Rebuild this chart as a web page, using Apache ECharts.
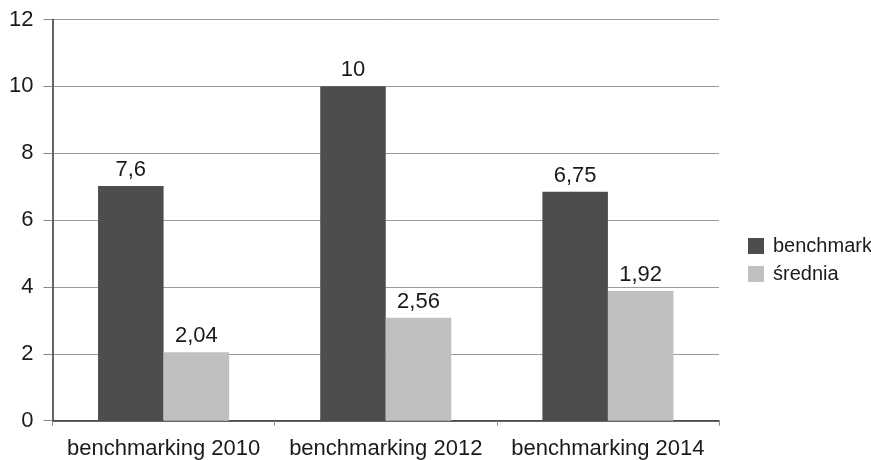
<!DOCTYPE html>
<html>
<head>
<meta charset="utf-8">
<script src="https://cdn.jsdelivr.net/npm/echarts@6/dist/echarts.min.js"></script>
<style>
  html, body { margin: 0; padding: 0; background: #fff; }
  #chart { width: 871px; height: 460px; }
</style>
</head>
<body>
<div id="chart"></div>
<script>
// categories and values
var categories = ['benchmarking 2010', 'benchmarking 2012', 'benchmarking 2014'];
var seriesNames = ['benchmark', 'średnia'];
// bar heights as drawn
var benchmarkValues = [7.02, 10, 6.85];
var sredniaValues = [2.05, 3.08, 3.88];
// printed labels (differ from drawn heights in the original)
var benchmarkLabels = ['7,6', '10', '6,75'];
var sredniaLabels = ['2,04', '2,56', '1,92'];
var yTicks = [0, 2, 4, 6, 8, 10, 12];

var font = 'Liberation Sans, Arial, sans-serif';
var chart = echarts.init(document.getElementById('chart'));

function labelCfg(texts) {
    return {
        show: true,
        position: 'top',
        distance: 5,
        color: '#1a1a1a',
        fontFamily: font,
        fontSize: 22,
        formatter: function (p) { return texts[p.dataIndex]; }
    };
}

chart.setOption({
    animation: false,
    textStyle: { fontFamily: font },
    grid: { left: 52.5, right: 152, top: 19.5, bottom: 39.3 },
    legend: {
        orient: 'vertical',
        left: 743,
        top: 231,
        itemWidth: 16,
        itemHeight: 16,
        itemGap: 8,
        icon: 'rect',
        data: seriesNames,
        textStyle: { color: '#1a1a1a', fontSize: 20, fontFamily: font, padding: [0, 0, 0, 4] }
    },
    xAxis: {
        type: 'category',
        data: categories,
        axisLine: { lineStyle: { color: '#333', width: 1.5 } },
        axisTick: { show: true, length: 5, lineStyle: { color: '#888' } },
        axisLabel: {
            interval: 0,
            hideOverlap: false,
            color: '#1a1a1a',
            fontSize: 22,
            fontFamily: font,
            margin: 17
        }
    },
    yAxis: {
        type: 'value',
        min: yTicks[0],
        max: yTicks[yTicks.length - 1],
        interval: 2,
        axisLine: { show: true, lineStyle: { color: '#333', width: 1.5 } },
        axisTick: { show: true, length: 9, lineStyle: { color: '#888' } },
        axisLabel: { color: '#1a1a1a', fontSize: 22, fontFamily: font, margin: 19 },
        splitLine: { lineStyle: { color: '#9a9a9a', width: 1 } }
    },
    series: [
        {
            name: seriesNames[0],
            type: 'bar',
            data: benchmarkValues,
            barGap: '0%',
            barCategoryGap: '41%',
            itemStyle: { color: '#4d4d4d' },
            label: labelCfg(benchmarkLabels)
        },
        {
            name: seriesNames[1],
            type: 'bar',
            data: sredniaValues,
            itemStyle: { color: '#c0c0c0' },
            label: labelCfg(sredniaLabels)
        }
    ]
});
</script>
</body>
</html>
